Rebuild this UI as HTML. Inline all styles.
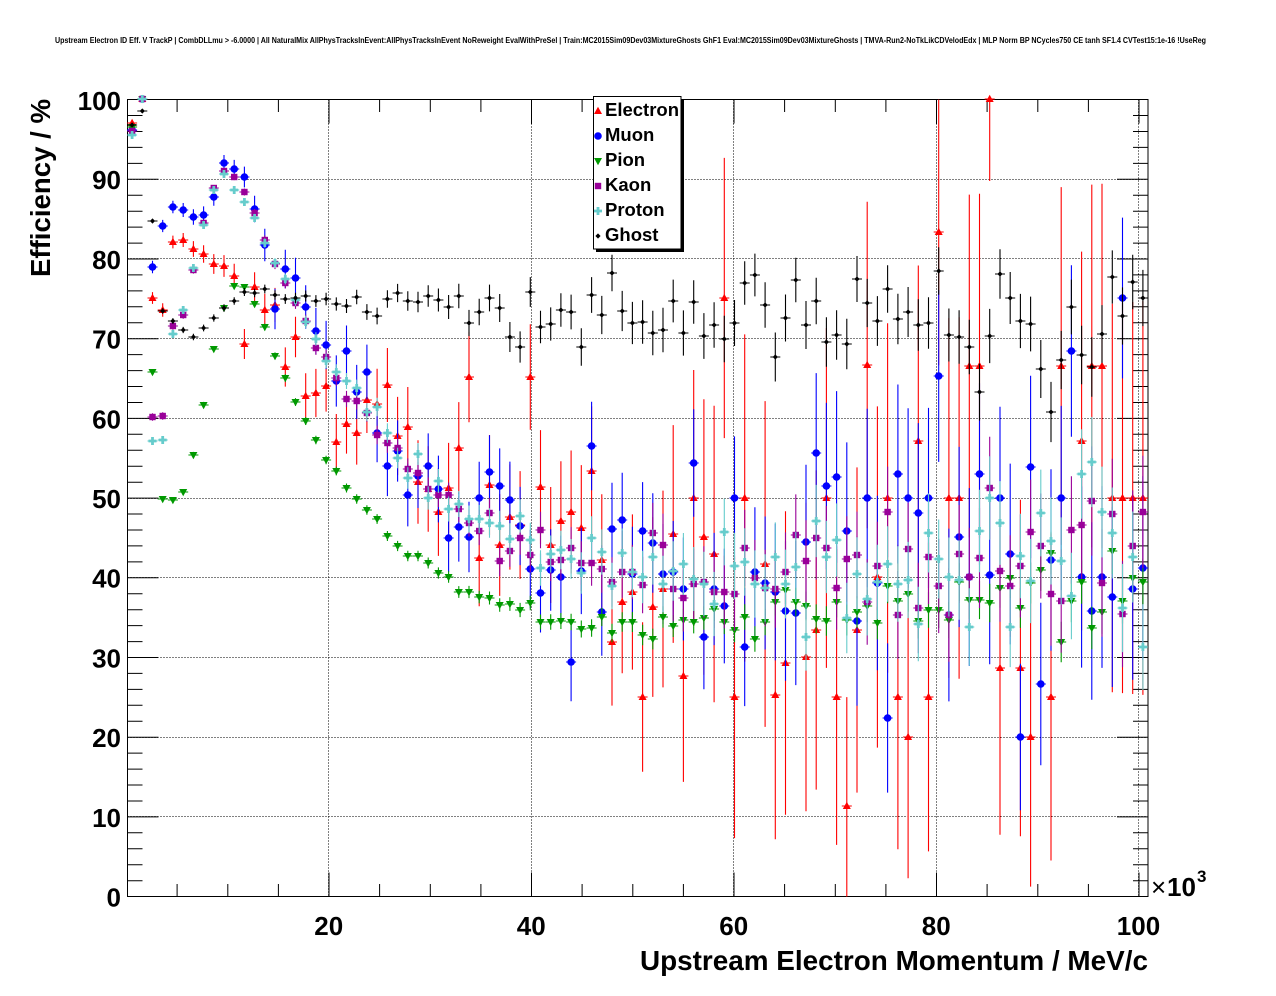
<!DOCTYPE html>
<html><head><meta charset="utf-8">
<style>
html,body{margin:0;padding:0;background:#fff;}
svg{display:block;}
text{font-family:"Liberation Sans",Arial,sans-serif;}
</style></head><body>
<svg id="s" width="1276" height="996" viewBox="0 0 1276 996" xmlns="http://www.w3.org/2000/svg">
<defs>
 <path id="mE" d="M0,-4.2 L4,3 L-4,3 Z" fill="#ff0000"/>
 <circle id="mM" cx="0" cy="0" r="3.8" fill="#0000ff"/>
 <path id="mPi" d="M0,4.2 L4,-3 L-4,-3 Z" fill="#009900"/>
 <rect id="mK" x="-3.2" y="-3.2" width="6.4" height="6.4" fill="#990099"/>
 <path id="mP" d="M-1.4,-4 H1.4 V-1.4 H4 V1.4 H1.4 V4 H-1.4 V1.4 H-4 V-1.4 H-1.4 Z" fill="#66cccc"/>
 <path id="mG" d="M0,-2.6 L2.6,0 L0,2.6 L-2.6,0 Z" fill="#000"/>
</defs>
<rect width="1276" height="996" fill="#fff"/>

<text x="55" y="43" font-size="8" font-weight="bold" textLength="1151" lengthAdjust="spacingAndGlyphs">Upstream Electron ID Eff. V TrackP | CombDLLmu &gt; -6.0000 | All NaturalMix AllPhysTracksInEvent:AllPhysTracksInEvent NoReweight EvalWithPreSel | Train:MC2015Sim09Dev03MixtureGhosts GhF1 Eval:MC2015Sim09Dev03MixtureGhosts | TMVA-Run2-NoTkLikCDVelodEdx | MLP Norm BP NCycles750 CE tanh SF1.4 CVTest15:1e-16 !UseReg</text>

<g stroke="#000" stroke-width="1" stroke-dasharray="1,2" fill="none">
 <path d="M127.5,179.5H1148M127.5,258.5H1148M127.5,338.5H1148M127.5,418.5H1148M127.5,498.5H1148M127.5,577.5H1148M127.5,657.5H1148M127.5,737.5H1148M127.5,816.5H1148"/>
 <path d="M328.5,99.5V896.5M531.5,99.5V896.5M733.5,99.5V896.5M936.5,99.5V896.5M1138.5,99.5V896.5"/>
</g>
<g id="ticks"></g>
<rect x="127.5" y="99.5" width="1020.5" height="797" fill="none" stroke="#000" stroke-width="1"/>

<g id="data"></g>

<g font-size="26" font-weight="bold" text-anchor="end">
 <text x="121" y="906.5">0</text>
 <text x="121" y="826.8">10</text>
 <text x="121" y="747.1">20</text>
 <text x="121" y="667.4">30</text>
 <text x="121" y="587.7">40</text>
 <text x="121" y="508">50</text>
 <text x="121" y="428.3">60</text>
 <text x="121" y="348.6">70</text>
 <text x="121" y="268.9">80</text>
 <text x="121" y="189.2">90</text>
 <text x="121" y="110">100</text>
</g>
<g font-size="26" font-weight="bold" text-anchor="middle">
 <text x="328.7" y="935">20</text>
 <text x="531.2" y="935">40</text>
 <text x="733.7" y="935">60</text>
 <text x="936.2" y="935">80</text>
 <text x="1138.5" y="935">100</text>
</g>
<text x="1151" y="896" font-size="26">×</text>
<text x="1167" y="896" font-size="26" font-weight="bold">10</text>
<text x="1197" y="882" font-size="17" font-weight="bold">3</text>

<text x="1148" y="970" font-size="28" font-weight="bold" text-anchor="end" textLength="508" lengthAdjust="spacingAndGlyphs">Upstream Electron Momentum / MeV/c</text>
<text transform="translate(50,99) rotate(-90)" font-size="28" font-weight="bold" text-anchor="end" textLength="178" lengthAdjust="spacingAndGlyphs">Efficiency / %</text>

<g id="legend">
 <rect x="596" y="99" width="88" height="153" fill="#000"/>
 <rect x="593.5" y="96.5" width="87.5" height="152.5" fill="#fff" stroke="#000" stroke-width="1"/>
 <use href="#mE" x="598" y="111"/>
 <use href="#mM" x="598" y="136"/>
 <use href="#mPi" x="598" y="161"/>
 <use href="#mK" x="598" y="186"/>
 <use href="#mP" x="598" y="211"/>
 <use href="#mG" x="598" y="236"/>
 <g font-size="18.5" font-weight="bold">
  <text x="605" y="116">Electron</text>
  <text x="605" y="141">Muon</text>
  <text x="605" y="166">Pion</text>
  <text x="605" y="191">Kaon</text>
  <text x="605" y="216">Proton</text>
  <text x="605" y="241">Ghost</text>
 </g>
</g>
</svg>
<script>
(function(){
const NS="http://www.w3.org/2000/svg";
function el(tag,attrs,parent){const e=document.createElementNS(NS,tag);for(const k in attrs)e.setAttribute(k,attrs[k]);parent.appendChild(e);return e;}
const ticksG=document.getElementById('ticks');
const dataG=document.getElementById('data');
const X0=126.5,XS=10.125,Y0=896.6,YS=7.97;
let d='';
for(let v=2;v<100;v+=2){const y=(Y0-YS*v).toFixed(1);const L=(v%10===0)?31:15;d+='M127.5,'+y+'h'+L+'M1148,'+y+'h'+(-L);}
for(let v=5;v<=100;v+=5){const x=(X0+XS*v).toFixed(1);const L=(v%20===0)?24:12.5;d+='M'+x+',896.5v'+(-L)+'M'+x+',99.5v'+L;}
el('path',{d:d,stroke:'#000','stroke-width':1,fill:'none'},ticksG);

const N=null;
const series=[
 {id:'mE',c:'#ff0000',n:[[0,8.5],[11,6.4],[25,4.67],[47,3.53],[58,1.8],[100,1.4]],
  y:[123,99,298,310,242,240,249,254,264,266,276,344,287,310,305,367,337,396,393,386,442,424,433,400,404,385,436,427,482,489,512,488,448,377,558,485,545,517,525,377,487,545,521,512,528,471,560,642,602,592,697,607,589,534,676,498,537,554,298,697,498,N,564,695,663,N,657,630,498,697,806,630,365,577,498,697,737,441,697,232,498,498,366,366,99,668,N,668,737,N,697,366,N,441,366,366,498,498,498,498]},
 {id:'mM',c:'#0000ff',n:[[0,8.3],[9,6.6],[14,5.7],[24,5.2],[39,4.6],[55,4.0],[70,3.0],[100,2.9]],
  y:[130,99,267,226,207,210,217,215,197,163,169,177,209,245,309,269,278,307,331,345,381,351,392,372,433,466,451,495,476,466,489,538,527,537,498,472,486,500,526,569,593,570,577,662,571,446,612,529,520,574,531,543,574,572,589,463,637,589,606,498,647,572,583,592,611,613,542,453,486,477,531,621,498,583,718,474,498,513,498,376,615,537,577,474,575,498,554,737,467,684,560,498,351,577,611,577,597,298,589,568]},
 {id:'mPi',c:'#009900',n:[[0,10],[30,8.5],[50,7.2],[75,6.2],[100,5.6]],
  y:[127,99,372,499,500,492,455,405,349,308,286,287,304,327,356,378,402,421,440,460,471,488,499,510,519,536,546,556,556,563,573,577,592,592,597,598,605,604,610,603,622,622,621,622,629,628,617,633,622,622,635,639,617,626,620,622,618,609,622,630,617,639,622,602,590,602,606,619,621,602,620,612,606,623,586,601,594,621,610,610,620,582,600,600,603,588,578,608,583,570,553,642,601,582,628,612,551,601,578,582]},
 {id:'mK',c:'#990099',n:[[0,9.5],[20,7.8],[35,6.6],[55,4.8],[84,4.1],[100,3.9]],
  y:[131,99,417,416,326,315,270,223,188,171,177,192,213,240,264,283,303,321,348,357,378,399,401,413,435,443,448,469,473,489,495,495,509,523,531,513,561,551,538,555,530,562,560,548,563,563,569,582,572,572,585,533,545,589,598,584,582,592,592,594,548,578,588,589,572,535,561,538,548,588,559,555,602,566,512,615,549,608,557,586,615,554,577,558,488,571,586,566,532,546,594,601,530,525,501,583,514,614,546,512]},
 {id:'mP',c:'#66cccc',n:[[0,9.5],[20,7.8],[35,6.6],[55,5.0],[94,4.35],[100,4.3]],
  y:[135,99,441,440,334,310,268,225,190,174,190,202,218,243,263,279,300,322,339,361,372,381,388,412,407,433,458,478,454,498,481,509,504,519,519,523,526,539,516,540,568,554,550,559,573,538,552,586,553,572,577,557,584,571,564,579,584,604,532,566,562,584,588,557,584,567,637,521,557,540,618,574,599,582,564,584,580,624,533,559,577,580,627,531,498,523,627,556,581,513,541,561,596,474,462,512,533,608,557,647]},
 {id:'mG',c:'#000000',n:[[0,10],[15,8.5],[30,6.8],[50,5.6],[75,5.3],[100,5.0]],
  y:[125,111,221,311,321,330,337,328,318,308,301,292,293,289,295,299,298,296,301,299,304,306,297,312,316,299,293,301,302,296,300,307,296,323,312,298,308,337,347,292,327,324,310,312,347,295,315,273,311,323,322,333,330,301,333,302,336,325,339,323,283,275,305,357,318,280,325,301,342,335,344,279,303,321,289,319,312,325,323,271,335,337,347,392,336,274,298,321,324,369,412,360,307,355,367,334,277,316,282,298]}
];
function lnN(a,k){for(let i=0;i<a.length-1;i++){if(k<=a[i+1][0]){const t=(k-a[i][0])/(a[i+1][0]-a[i][0]);return a[i][1]+t*(a[i+1][1]-a[i][1]);}}return a[a.length-1][1];}
for(const s of series){
  const g=el('g',{},dataG);
  let p='';const pts=[];
  s.y.forEach(function(y,k){
    if(y==null)return;
    const x=132.1+10.21*k;
    const e=Math.min(1,Math.max(0,(Y0-y)/797));
    const n=Math.exp(lnN(s.n,k));
    const err=797*Math.sqrt(Math.max(e*(1-e),0.01)/n);
    let up=Math.min(err,y-99.6),dn=Math.min(err,Y0-y);
    if(e>0.985){dn=Math.max(dn,797*Math.sqrt(0.05/n));up=0;}
    p+='M'+(x-5).toFixed(1)+','+y+'H'+(x+5).toFixed(1)+'M'+x.toFixed(1)+','+(y-up).toFixed(1)+'V'+(y+dn).toFixed(1);
    pts.push([x,y]);
  });
  el('path',{d:p,stroke:s.c,'stroke-width':1.1,fill:'none'},g);
  pts.forEach(function(q){el('use',{href:'#'+s.id,x:q[0].toFixed(1),y:q[1]},g);});
}
})();
</script>
</body></html>
